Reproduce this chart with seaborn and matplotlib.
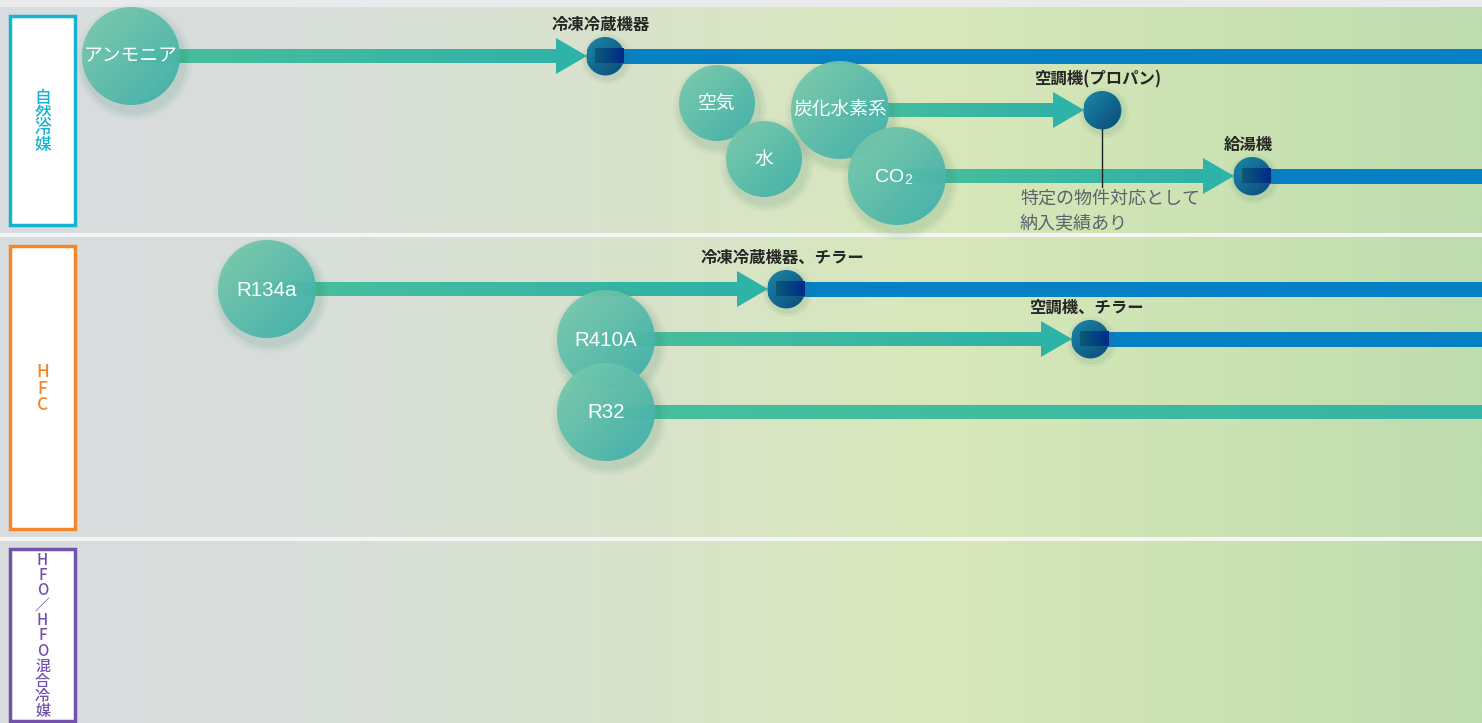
import numpy as np
import matplotlib
matplotlib.use("Agg")
import matplotlib.pyplot as plt
from matplotlib.patches import Circle, Rectangle, Polygon
from matplotlib.colors import to_rgb
import seaborn as sns

sns.set_theme(style="white")
plt.rcParams['font.family'] = ['Noto Sans CJK JP', 'DejaVu Sans']

W, H = 1482, 723

# panels (refrigerant groups)
groups = ["自然冷媒", "HFC", "HFO／HFO混合冷媒"]
group_colors = ["#14b4d0", "#f5862a", "#7252aa"]
group_top = [16, 246, 549]
group_bottom = [225, 529, 721]
group_fs = [12, 12.5, 10.8]
group_ls = [0.84, 0.86, 0.85]

# refrigerant nodes
nodes = ["アンモニア", "空気", "水", "炭化水素系", "CO2", "R134a", "R410A", "R32"]
node_x = [131, 717, 764, 840, 897, 267, 606, 606]
node_y = [56, 103, 159, 110, 176, 289, 339, 412]
node_r = [49, 38, 38, 49, 49, 49, 49, 49]

# adoption flows: refrigerant -> product (end None = still running)
flow_src = ["アンモニア", "炭化水素系", "CO2", "R134a", "R410A", "R32"]
flow_end = [605, 1102, 1252, 786, 1090, None]
flow_label = ["冷凍冷蔵機器", "空調機(プロパン)", "給湯機", "冷凍冷蔵機器、チラー", "空調機、チラー", None]
flow_continue = [True, False, True, True, True, False]

note_lines = ["特定の物件対応として", "納入実績あり"]

BAR_H = 14
DOT_R = 19


def lin_grad(ax, x0, x1, y0, y1, c1, c2, clip=None, direction="x", alpha=1.0, z=1):
    n = 200
    t = np.linspace(0, 1, n)
    a, b = np.array(to_rgb(c1)), np.array(to_rgb(c2))
    if direction == "x":
        img = (a[None, :] * (1 - t[:, None]) + b[None, :] * t[:, None])[None, :, :]
    else:
        tt = (t[:, None] + t[None, :]) / 2
        img = a[None, None, :] * (1 - tt[..., None]) + b[None, None, :] * tt[..., None]
    im = ax.imshow(img, extent=[x0, x1, y1, y0], aspect="auto", zorder=z,
                   alpha=alpha, interpolation="bilinear")
    if clip is not None:
        ax.add_patch(clip)
        clip.set_visible(False)
        im.set_clip_path(clip)
    return im


fig = plt.figure(figsize=(W / 100, H / 100), dpi=100)
ax = fig.add_axes([0, 0, 1, 1])

# background gradient
stops = [0, 0.2, 0.45, 0.62, 0.8, 1.0]
cols = ["#d8dcdf", "#d9dedb", "#d8e3c9", "#d9e8bb", "#cde3b4", "#bedcae"]
xs = np.linspace(0, 1, 600)
rgb = np.array([to_rgb(c) for c in cols])
bg = np.stack([np.interp(xs, stops, rgb[:, k]) for k in range(3)], axis=-1)[None, :, :]
ax.imshow(bg, extent=[0, W, H, 0], aspect="auto", zorder=0, interpolation="bilinear")
ax.add_patch(Rectangle((0, 0), W, 7, color="#e9eaec", zorder=0.5, lw=0))
for y0 in [233, 537]:
    ax.add_patch(Rectangle((0, y0), W, 4, color="#f4f5f4", zorder=0.5, lw=0))

# group label boxes
for name, c, t, b, fs, ls in zip(groups, group_colors, group_top, group_bottom, group_fs, group_ls):
    ax.add_patch(Rectangle((10, t), 65, b - t, facecolor="white", edgecolor=c, lw=2.5, zorder=2))
    ax.text(42.5, (t + b) / 2 + 1, "\n".join(name), ha="center", va="center", color=c,
            fontsize=fs, linespacing=ls, fontweight="medium", zorder=3)

pos = {n: (x, y, r) for n, x, y, r in zip(nodes, node_x, node_y, node_r)}

# flows
dots_x, dots_y = [], []
for src, end, lab, cont in zip(flow_src, flow_end, flow_label, flow_continue):
    x, y, r = pos[src]
    if end is None:
        lin_grad(ax, x, W, y - BAR_H / 2, y + BAR_H / 2, "#47c09b", "#35b5a5", z=3)
        continue
    tip = end - DOT_R + 1
    base = tip - 31
    lin_grad(ax, x, base, y - BAR_H / 2, y + BAR_H / 2, "#4ac09b", "#30b2a8", z=3)
    ax.add_patch(Polygon([(base, y - 18), (base, y + 18), (tip, y)], closed=True,
                         color="#2db3a7", lw=0, zorder=3))
    if cont:
        ax.add_patch(Rectangle((end, y - 7.5), W - end, 15, color="#0580c5", lw=0, zorder=3))
    dots_x.append(end)
    dots_y.append(y)
    ax.text(end - 4, y - DOT_R - 12, lab, ha="center", va="center", fontsize=11.8,
            fontweight="bold", color="#262626", zorder=8)

# shadows for endpoint dots
for dx, dy in zip(dots_x, dots_y):
    for k, a in [(6, 0.06), (3, 0.08)]:
        ax.add_patch(Circle((dx + 2, dy + 3), DOT_R + k, color="#3d6f5a", alpha=a, lw=0, zorder=4))

sns.scatterplot(x=dots_x, y=dots_y, s=(2 * DOT_R * 0.72) ** 2, color="#0f6a92",
                linewidth=0, ax=ax, zorder=5, legend=False)
for dx, dy, cont in zip(dots_x, dots_y, [c for c, e in zip(flow_continue, flow_end) if e is not None]):
    lin_grad(ax, dx - DOT_R + 1, dx + DOT_R - 1, dy - DOT_R, dy + DOT_R, "#1c88a8", "#0b4a78",
             clip=Circle((dx, dy), DOT_R), direction="d", z=5.5)
    if cont:
        lin_grad(ax, dx - 10, dx + DOT_R, dy - 7.5, dy + 7.5, "#0c5a78", "#002a88", z=6)

# annotation for hydrocarbon
hx = flow_end[flow_src.index("炭化水素系")]
hy = pos["炭化水素系"][1]
ax.plot([hx, hx], [hy + DOT_R, 187], color="#222222", lw=1, zorder=7)
for i, line in enumerate(note_lines):
    ax.text(1020, 199 + 24 * i, line, ha="left", va="center", fontsize=13,
            color="#5b636b", zorder=8)

# refrigerant circles
for n in nodes:
    x, y, r = pos[n]
    for k, a in [(9, 0.04), (6, 0.05), (3, 0.07)]:
        ax.add_patch(Circle((x + 3, y + 6), r + k, color="#2f7a5e", alpha=a, lw=0, zorder=9))
    lin_grad(ax, x - r, x + r, y - r, y + r, "#7ccbab", "#3aaeaa",
             clip=Circle((x, y), r), direction="d", alpha=0.94, z=10)
    if n == "CO2":
        ax.text(x + 7, y + 1, "CO", ha="right", va="center", fontsize=14,
                family="Liberation Sans", color="white", zorder=11)
        ax.text(x + 7.5, y + 4, "2", ha="left", va="center", fontsize=10,
                family="Liberation Sans", color="white", zorder=11)
    elif n.isascii():
        ax.text(x, y + 1, n, ha="center", va="center", fontsize=14.8,
                family="Liberation Sans", color="white", zorder=11)
    else:
        ax.text(x, y, n, ha="center", va="center", fontsize=13.5, color="white", zorder=11)

ax.set_xlim(0, W)
ax.set_ylim(H, 0)
ax.axis("off")
fig.savefig("out.png", dpi=100)
